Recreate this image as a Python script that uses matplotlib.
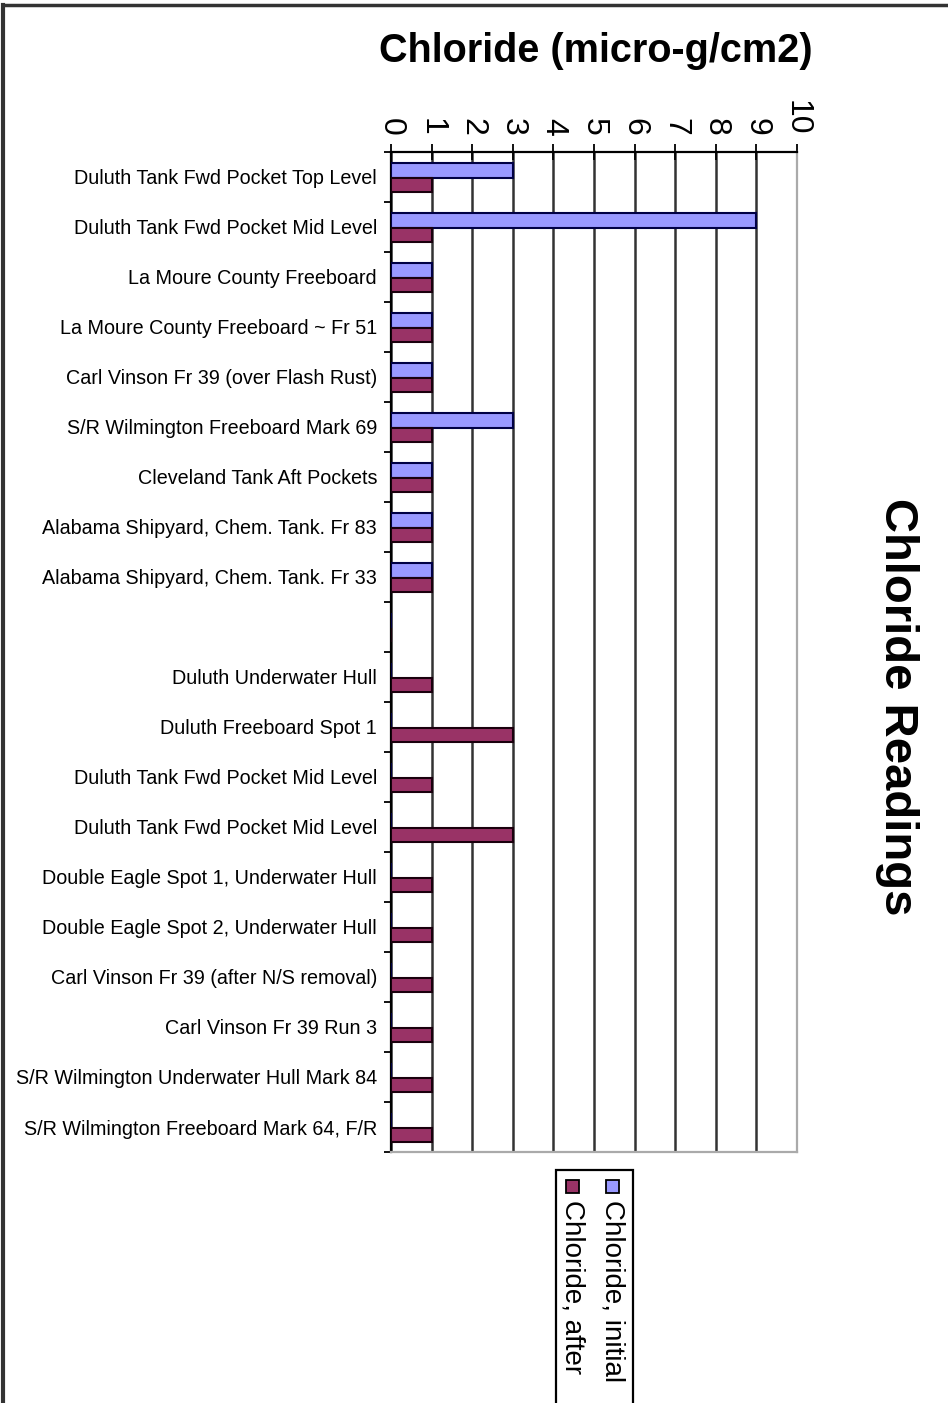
import numpy as np
import matplotlib.pyplot as plt
from matplotlib.patches import Rectangle
from matplotlib.lines import Line2D

# sample locations (blank entry separates the two groups)
labels = [
    "Duluth Tank Fwd Pocket Top Level",
    "Duluth Tank Fwd Pocket Mid Level",
    "La Moure County Freeboard",
    "La Moure County Freeboard ~ Fr 51",
    "Carl Vinson Fr 39 (over Flash Rust)",
    "S/R Wilmington Freeboard Mark 69",
    "Cleveland Tank Aft Pockets",
    "Alabama Shipyard, Chem. Tank. Fr 83",
    "Alabama Shipyard, Chem. Tank. Fr 33",
    "",
    "Duluth Underwater Hull",
    "Duluth Freeboard Spot 1",
    "Duluth Tank Fwd Pocket Mid Level",
    "Duluth Tank Fwd Pocket Mid Level",
    "Double Eagle Spot 1, Underwater Hull",
    "Double Eagle Spot 2, Underwater Hull",
    "Carl Vinson Fr 39 (after N/S removal)",
    "Carl Vinson Fr 39 Run 3",
    "S/R Wilmington Underwater Hull Mark 84",
    "S/R Wilmington Freeboard Mark 64, F/R",
]
initial = [3, 9, 1, 1, 1, 3, 1, 1, 1, 0, 0, 0, 0, 0, 0, 0, 0, 0, 0, 0]
after = [1, 1, 1, 1, 1, 1, 1, 1, 1, 0, 1, 3, 1, 3, 1, 1, 1, 1, 1, 1]
xticks = list(range(0, 11))

blue = "#9999FF"
red = "#993366"

plt.rcParams['font.family'] = ['Liberation Sans', 'DejaVu Sans']

fig = plt.figure(figsize=(9.48, 14.03), dpi=100)
ax = fig.add_axes([0.4124, 0.1789, 0.4283, 0.7128])

y = np.arange(len(labels))
h = 0.29
ax.barh(y - 0.13, initial, height=h, color=blue, edgecolor="#000044", linewidth=1.5, zorder=3)
ax.barh(y + 0.16, after, height=h, color=red, edgecolor="#1a000d", linewidth=1.5, zorder=3)

ax.set_xlim(0, 10)
ax.set_ylim(len(labels) - 0.5, -0.5)

# x axis on top, rotated numbers
ax.xaxis.tick_top()
ax.set_xticks(xticks)
ax.set_xticklabels([str(t) for t in xticks], rotation=-90, fontsize=23)
ax.tick_params(axis='x', direction='inout', length=11, width=1.3, pad=6)
ax.grid(axis='x', color='#333333', linewidth=1.8, zorder=1)

ax.set_yticks(y)
ax.set_yticklabels(labels, fontsize=14.2)
ax.tick_params(axis='y', length=0, pad=10)
ax.set_yticks(np.arange(-0.5, len(labels)), minor=True)
ax.tick_params(axis='y', which='minor', direction='out', length=5, width=1.3)

for s in ['top', 'left']:
    ax.spines[s].set_color('black')
    ax.spines[s].set_linewidth(1.6)
for s in ['right', 'bottom']:
    ax.spines[s].set_color('#aaaaaa')
    ax.spines[s].set_linewidth(1.6)

fig.text(0.628, 0.964, "Chloride (micro-g/cm2)", ha='center', va='center',
         fontsize=28.5, fontweight='bold')
fig.text(0.946, 0.496, "Chloride Readings", ha='center', va='center',
         rotation=-90, fontsize=34, fontweight='bold')

# legend box drawn rotated like the original
fig.add_artist(Rectangle((0.5865, -0.01), 0.0812, 0.176, transform=fig.transFigure,
                         facecolor='white', edgecolor='black', linewidth=1.6))
for xc, col, txt in [(0.646, blue, "Chloride, initial"), (0.604, red, "Chloride, after")]:
    fig.add_artist(Rectangle((xc - 0.0065, 0.150), 0.013, 0.0088, transform=fig.transFigure,
                             facecolor=col, edgecolor='black', linewidth=1.3))
    fig.text(xc, 0.145, txt, ha='center', va='top', rotation=-90, fontsize=20)

# page frame lines
fig.add_artist(Line2D([0.003, 1.0], [0.9965, 0.9965], color='#333333', linewidth=2.5))
fig.add_artist(Line2D([0.003, 0.003], [0.0, 0.9965], color='#333333', linewidth=3))

fig.savefig("out.png", dpi=100)
